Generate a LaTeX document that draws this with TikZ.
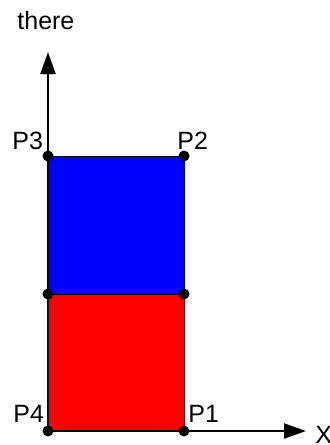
\documentclass[tikz,border=0pt]{standalone}
\usepackage{fontspec}
\setmainfont{Liberation Sans}
\usetikzlibrary{arrows.meta}
\tikzset{
    dot/.style={ % điểm đen
        circle,
        fill=black,
        inner sep=0pt,
        minimum size=5.5pt
    },
    lbl/.style={ % nhãn chữ
        anchor=base west,
        inner sep=0pt,
        font=\fontsize{12.5}{15}\selectfont
    },
    axis/.style={ % trục có mũi tên
        line width=1pt,
        -{Triangle[length=11pt,width=7.5pt]}
    },
    part/.style={ % hình chữ nhật
        draw=black,
        line width=0.5pt
    }
}

\begin{document}
\begin{tikzpicture}[x=0.5pt,y=-0.5pt]
        \useasboundingbox (0,0) rectangle (329,445);

        \coordinate (c4) at (48,431);
        \coordinate (c1) at (184,431);
        \coordinate (c2) at (184,156);
        \coordinate (c3) at (48,156);
        \coordinate (cl) at (48,294);
        \coordinate (cr) at (184,294);
        \coordinate (xtip) at (306,431);
        \coordinate (ytip) at (48,52);

        \filldraw[part, fill=red] (c4) rectangle (cr);
        \filldraw[part, fill=blue] (cl) rectangle (c2);

        \draw[axis] (c4) -- (xtip);
        \draw[axis] (c4) -- (ytip);

        \node [dot] (p4) at (c4) {};
        \node [dot] (p1) at (c1) {};
        \node [dot] (p2) at (c2) {};
        \node [dot] (p3) at (c3) {};
        \node [dot] (ml) at (cl) {};
        \node [dot] (mr) at (cr) {};

        \node [lbl] (lp3) at (12,149) {P3};
        \node [lbl] (lp2) at (177,149) {P2};
        \node [lbl] (lp4) at (13,422) {P4};
        \node [lbl] (lp1) at (188,422) {P1};
        \node [lbl] (ly) at (17,29) {there};
        \node [lbl] (lx) at (315,443) {X};
\end{tikzpicture}
\end{document}
